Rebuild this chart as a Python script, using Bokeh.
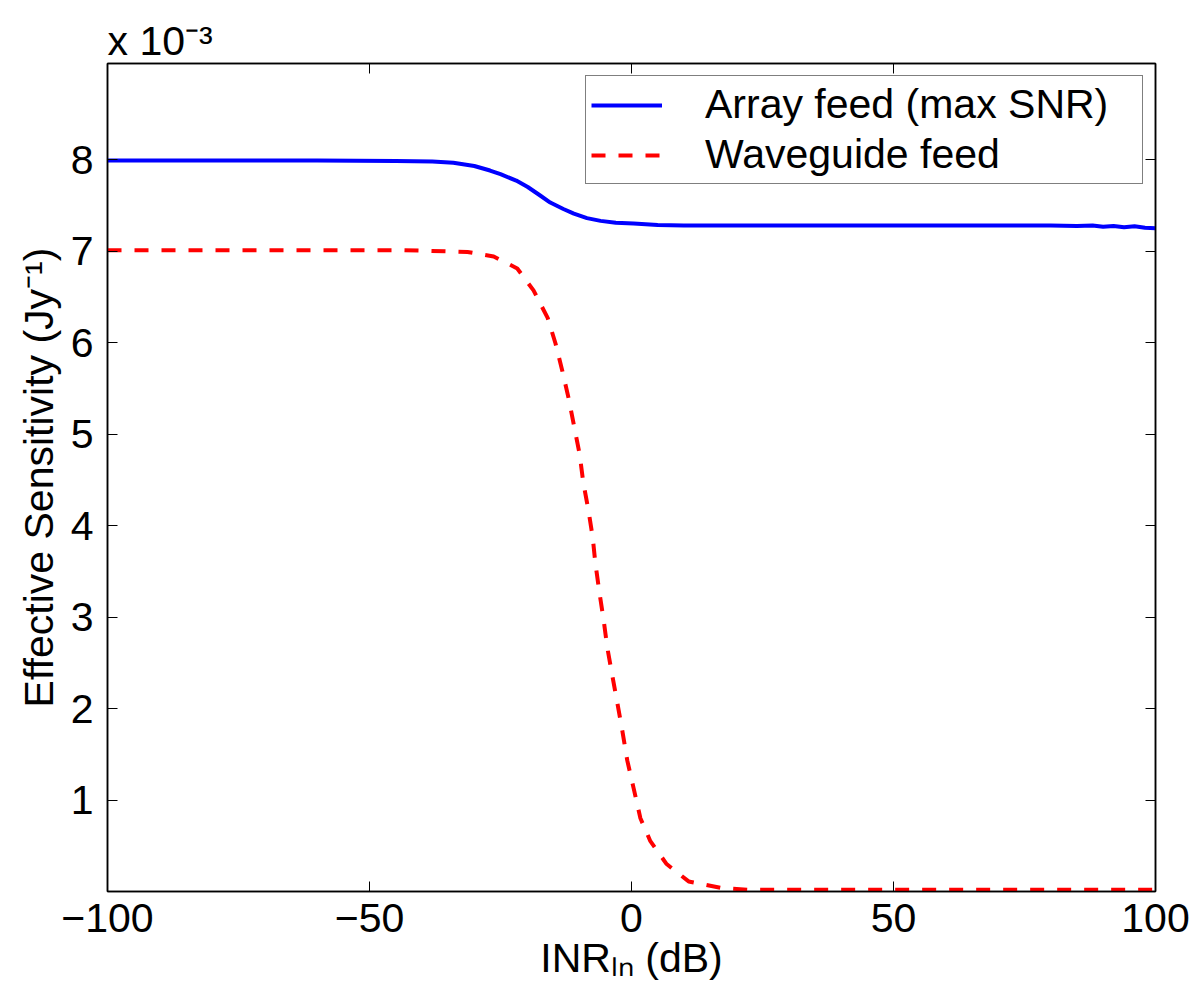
from bokeh.plotting import figure
from bokeh.models import Range1d, FixedTicker, LinearAxis, Legend, LegendItem
from bokeh.embed import file_html
from bokeh.resources import INLINE

# ---- data (sensitivity in units of 1e-3 Jy^-1) ----
inr_array = [-100, -60, -45, -38, -34, -30, -27, -25, -22, -19.8, -17.5, -15.5, -13, -11,
             -8.5, -5.9, -3, 0.4, 5, 10, 20, 40, 60, 80, 85, 88, 90, 92, 94, 96, 98, 100]
sens_array = [7.99, 7.99, 7.985, 7.98, 7.965, 7.93, 7.88, 7.84, 7.77, 7.70, 7.61, 7.53, 7.46,
              7.41, 7.36, 7.33, 7.31, 7.30, 7.285, 7.28, 7.28, 7.28, 7.28, 7.28, 7.275, 7.28,
              7.265, 7.275, 7.26, 7.27, 7.255, 7.25]

inr_wg = [-100, -43.5, -31.3, -26.3, -21.8, -18.7, -16.0, -14.5, -13.2, -12.0, -10.9, -9.9,
          -9.2, -8.2, -7.4, -6.9, -6.1, -5.3, -4.6, -3.6, -2.7, -1.7, -0.8, 0.4, 1.7, 3.6,
          6.7, 10.9, 17.0, 22.1, 100]
sens_wg = [7.01, 7.01, 6.99, 6.94, 6.81, 6.57, 6.27, 5.99, 5.69, 5.39, 5.07, 4.78,
           4.47, 4.16, 3.87, 3.59, 3.26, 2.96, 2.66, 2.34, 2.06, 1.74, 1.43, 1.13, 0.80, 0.55,
           0.30, 0.11, 0.04, 0.02, 0.02]

series_names = ["Array feed (max SNR)", "Waveguide feed"]
x_ticks = [-100, -50, 0, 50, 100]
x_tick_labels = {-100: "\u2212100", -50: "\u221250", 0: "0", 50: "50", 100: "100"}
y_ticks = [1, 2, 3, 4, 5, 6, 7, 8]
x_label = "INR\u2097\u2099 (dB)"
y_label = "Effective Sensitivity (Jy\u207b\u00b9)"
scale_label = "x 10\u207b\u00b3"

X_MIN, X_MAX = -100, 100
Y_MIN, Y_MAX = 0, 9.05

FONT = "Liberation Sans"
FS = "41px"

p = figure(width=1190, height=997,
           x_range=Range1d(X_MIN, X_MAX), y_range=Range1d(Y_MIN, Y_MAX),
           output_backend="svg", toolbar_location=None,
           min_border_left=107, min_border_right=35,
           min_border_top=63, min_border_bottom=106)
p.background_fill_color = "white"
p.border_fill_color = "white"
p.outline_line_color = "black"
p.outline_line_width = 1.5
p.xgrid.visible = False
p.ygrid.visible = False

p.title.text = scale_label
p.title.align = "left"
p.title.text_font = FONT
p.title.text_font_size = FS
p.title.text_font_style = "normal"
p.title.text_color = "black"
p.title.standoff = 0


def style_axis(ax, show_labels=True):
    ax.axis_line_color = "black"
    ax.axis_line_width = 1.5
    ax.major_tick_line_color = "black"
    ax.major_tick_line_width = 1
    ax.major_tick_in = 10
    ax.major_tick_out = 0
    ax.minor_tick_line_color = None
    ax.major_label_text_font = FONT
    if show_labels:
        ax.major_label_text_font_size = FS
        ax.major_label_text_color = "black"
        ax.axis_label_text_font = FONT
        ax.axis_label_text_font_size = FS
        ax.axis_label_text_font_style = "normal"
        ax.axis_label_text_color = "black"
    else:
        ax.major_label_text_font_size = "1px"
        ax.major_label_text_color = None
        ax.major_label_standoff = 0


xax = p.xaxis[0]
xax.ticker = FixedTicker(ticks=x_ticks)
xax.major_label_overrides = x_tick_labels
xax.major_label_standoff = 12
xax.axis_label = x_label
xax.axis_label_standoff = 0
style_axis(xax)

yax = p.yaxis[0]
yax.ticker = FixedTicker(ticks=y_ticks)
yax.major_label_standoff = 14
yax.axis_label = y_label
yax.axis_label_standoff = 6
style_axis(yax)

top_ax = LinearAxis(ticker=FixedTicker(ticks=x_ticks))
style_axis(top_ax, show_labels=False)
p.add_layout(top_ax, "above")
right_ax = LinearAxis(ticker=FixedTicker(ticks=y_ticks))
style_axis(right_ax, show_labels=False)
p.add_layout(right_ax, "right")

r1 = p.line(inr_array, sens_array, line_color="#0000ff", line_width=4)
r2 = p.line(inr_wg, sens_wg, line_color="#ff0000", line_width=4, line_dash="14 13")

legend = Legend(items=[LegendItem(label=series_names[0], renderers=[r1]),
                       LegendItem(label=series_names[1], renderers=[r2])],
                location="top_right")
legend.margin = 12
legend.padding = 5
legend.spacing = 3
legend.glyph_width = 71
legend.glyph_height = 46
legend.label_height = 46
legend.label_standoff = 43
legend.label_width = 432
legend.label_text_font = FONT
legend.label_text_font_size = FS
legend.label_text_color = "black"
legend.border_line_color = "black"
legend.border_line_width = 1.5
legend.background_fill_color = "white"
legend.background_fill_alpha = 1
p.add_layout(legend, "center")

open("out.html", "w").write(file_html(p, INLINE))
